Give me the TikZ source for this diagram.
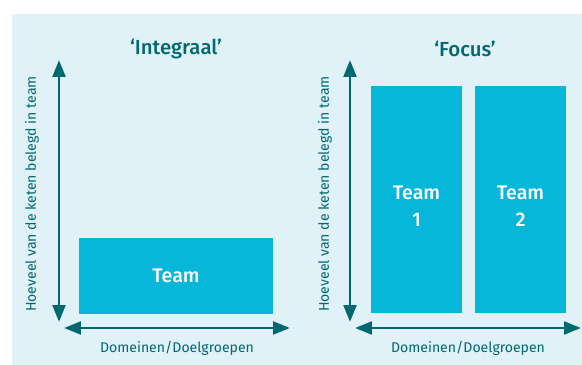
\documentclass[tikz,border=0pt]{standalone}
\usepackage{fontspec}
\setmainfont{Fira Sans}
\newfontfamily\mediumfont{Fira Sans Medium}
\usetikzlibrary{arrows.meta}

\definecolor{panelblue}{HTML}{E1F1F8}
\definecolor{teamblue}{HTML}{06B7DA}
\definecolor{axisteal}{HTML}{00686F}

\begin{document}
\begin{tikzpicture}[
    team/.style={rectangle, fill=teamblue, text=white, inner sep=0pt, align=center, font=\fontsize{14}{19}\selectfont\mediumfont},
    teamtext/.style={text=white, align=center, font=\fontsize{14}{19}\selectfont\mediumfont},
    axis/.style={{Triangle[length=12pt, width=9pt]}-{Triangle[length=12pt, width=9pt]}, line width=2.1pt, color=axisteal},
    heading/.style={text=axisteal, font=\fontsize{14.5}{16}\selectfont\mediumfont},
    axislabel/.style={text=axisteal, font=\fontsize{10}{12}\selectfont}
]

\useasboundingbox (0, 0) rectangle (14.55, 9.125);
\fill[panelblue] (0.3, 0) rectangle (14.55, 8.775);

% Integraal
\begin{scope}[shift={(1.475, 0.925)}]
    \coordinate (yTop1) at (0, 6.7);
    \coordinate (yBot1) at (0, 0.15);
    \coordinate (xLeft1) at (0.125, 0);
    \coordinate (xRight1) at (5.775, 0);

    \draw[axis] (yTop1) -- (yBot1);
    \draw[axis] (xLeft1) -- (xRight1);

    \node[team, minimum width=4.85cm, minimum height=1.9cm] (team) at (2.925, 1.3) {Team};

    \node[heading] (int) at (2.925, 6.98) {‘Integraal’};
    \node[axislabel] (dom1) at (2.95, -0.5) {Domeinen/Doelgroepen};
    \node[axislabel, rotate=90] (hoe1) at (-0.675, 3.35) {Hoeveel van de keten belegd in team};
\end{scope}

% Focus
\begin{scope}[shift={(8.75, 0.925)}]
    \coordinate (yTop2) at (0, 6.7);
    \coordinate (yBot2) at (0, 0.15);
    \coordinate (xLeft2) at (0.125, 0);
    \coordinate (xRight2) at (5.775, 0);

    \draw[axis] (yTop2) -- (yBot2);
    \draw[axis] (xLeft2) -- (xRight2);

    \node[team, minimum width=2.275cm, minimum height=5.675cm] (team1) at (1.6625, 3.2125) {};
    \node[team, minimum width=2.275cm, minimum height=5.675cm] (team2) at (4.2625, 3.2125) {};
    \node[teamtext] (name1) at ([yshift=-0.16cm]team1.center) {Team\\1};
    \node[teamtext] (name2) at ([yshift=-0.16cm]team2.center) {Team\\2};

    \node[heading] (foc) at (2.875, 6.98) {‘Focus’};
    \node[axislabel] (dom2) at (2.95, -0.5) {Domeinen/Doelgroepen};
    \node[axislabel, rotate=90] (hoe2) at (-0.625, 3.35) {Hoeveel van de keten belegd in team};
\end{scope}

\end{tikzpicture}
\end{document}
